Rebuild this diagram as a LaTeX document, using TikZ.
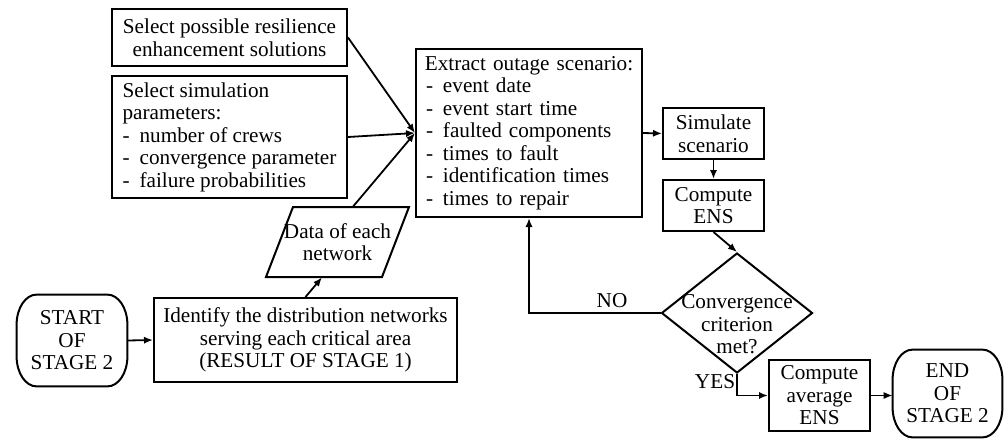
\documentclass[tikz,border=0pt]{standalone}
\usepackage{fontspec}
\setmainfont{Liberation Serif}
\usetikzlibrary{shapes.geometric,arrows.meta,calc}
\newcommand{\itm}[1]{\makebox[8.5pt][l]{-}#1}
\newcommand{\termshape}[1]{%
  \draw[line width=1pt] ($(#1.north west)+(20,0)$) -- ($(#1.north east)+(-20,0)$)
    arc[start angle=90,end angle=0,x radius=10pt,y radius=15pt]
    -- ($(#1.south east)+(0,-30)$)
    arc[start angle=0,end angle=-90,x radius=10pt,y radius=15pt]
    -- ($(#1.south west)+(20,0)$)
    arc[start angle=270,end angle=180,x radius=10pt,y radius=15pt]
    -- ($(#1.north west)+(0,30)$)
    arc[start angle=180,end angle=90,x radius=10pt,y radius=15pt] -- cycle;}
\tikzset{
  txt/.style={font=\fontsize{10.6}{11.25}\selectfont},
  box/.style={txt, draw, line width=1pt, rectangle, inner sep=0pt, align=center},
  plain/.style={txt, rectangle, inner sep=0pt, align=center},
  arr/.style={-{Latex[length=4.5pt,width=3.6pt]}, line width=0.9pt},
  lbl/.style={txt, inner sep=0pt}
}
\begin{document}
\begin{tikzpicture}[x=0.5pt,y=-0.5pt]
\useasboundingbox (0,0) rectangle (1004,439);
\node[box, minimum width=117.5pt, minimum height=28.5pt] (sel) at (229.5,37.5)
  {Select possible resilience\\enhancement solutions};
\node[box, minimum width=117.5pt, minimum height=61pt, align=left] (par) at (229.5,137)
  {Select simulation\\parameters:\\\itm{number of crews}\\\itm{convergence parameter}\\\itm{failure probabilities}};
\node[box, minimum width=113pt, minimum height=84pt, text width=103pt, align=left] (ext) at (529,133)
  {\makebox[103pt][c]{Extract outage scenario:}\\\itm{event date}\\\itm{event start time}\\\itm{faulted components}\\\itm{times to fault}\\\itm{identification times}\\\itm{times to repair}};
\node[box, minimum width=50.5pt, minimum height=25.5pt] (sim) at (713.5,133.5) {Simulate\\scenario};
\node[box, minimum width=50.5pt, minimum height=25.5pt] (ens) at (713.5,205.5) {Compute\\ENS};
\node[draw, diamond, line width=1pt, inner sep=0pt, minimum width=75.5pt, minimum height=60pt] (dia) at (737,313) {};
\node[plain] (diat) at (737,324.5) {Convergence\\criterion\\met?};
\node[box, minimum width=50.5pt, minimum height=35.5pt] (avg) at (819.5,395.5) {Compute\\average\\ENS};
\node[plain, minimum width=54.5pt, minimum height=43.5pt] (end) at (947.5,393.5) {END\\OF\\STAGE 2};
\termshape{end}
\node[plain, minimum width=55pt, minimum height=45.5pt] (start) at (72,340.5) {START\\OF\\STAGE 2};
\termshape{start}
\node[box, minimum width=151.5pt, minimum height=42pt] (ident) at (305.5,340)
  {Identify the distribution networks\\serving each critical area\\(RESULT OF STAGE 1)};
\node[plain, minimum width=58pt, minimum height=35pt] (data) at (337.5,242) {Data of each\\network};
\draw[line width=1pt] ($(data)+(-44.5,-35)$) -- ($(data)+(71.5,-35)$) -- ($(data)+(44.5,35)$) -- ($(data)+(-71.5,35)$) -- cycle;
\node[lbl] (no) at (612,301) {NO};
\node[lbl] (yes) at (715,382) {YES};
% connectors
\draw[arr] (sel.east) -- (ext.west);
\draw[arr] (par.east) -- (ext.west);
\draw[arr] ($(data.north)+(15.5,0)$) -- (ext.west);
\draw[arr] (ident.north) -- ($(data.south)+(-15.5,0)$);
\draw[arr] (start.east) -- (ident.west);
\draw[arr] (ext.east) -- (sim.west);
\draw[arr] (sim.south) -- (ens.north);
\draw[arr] (ens.south) -- (dia.north);
\draw[arr] (dia.west) -| (ext.south);
\draw[arr] (dia.south) |- (avg.west);
\draw[arr] (avg.east) -- (avg.east -| end.west);
\end{tikzpicture}
\end{document}
